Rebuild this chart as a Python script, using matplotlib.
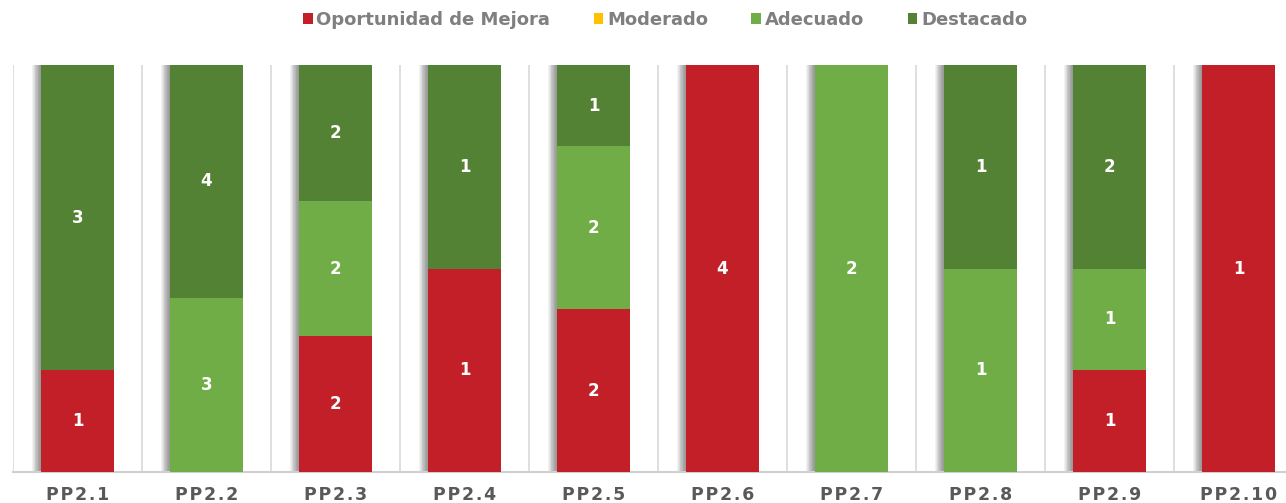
import numpy as np
import matplotlib
matplotlib.use("Agg")
import matplotlib.pyplot as plt

# ------------------------- data -------------------------
categories = ["PP2.1", "PP2.2", "PP2.3", "PP2.4", "PP2.5",
              "PP2.6", "PP2.7", "PP2.8", "PP2.9", "PP2.10"]
series_names = ["Oportunidad de Mejora", "Moderado", "Adecuado", "Destacado"]
oportunidad = [1, 0, 2, 1, 2, 4, 0, 0, 1, 1]
moderado = [0, 0, 0, 0, 0, 0, 0, 0, 0, 0]
adecuado = [0, 3, 2, 0, 2, 0, 2, 1, 1, 0]
destacado = [3, 4, 2, 1, 1, 0, 0, 1, 2, 0]
colors = ["#C21F28", "#FFC000", "#70AD47", "#548235"]

counts = np.array([oportunidad, moderado, adecuado, destacado], dtype=float)
totals = counts.sum(axis=0)
shares = counts / totals

# ------------------------- figure -------------------------
fig = plt.figure(figsize=(12.86, 5.03), dpi=100)
ax = fig.add_axes([13 / 1286, 1 - 472 / 503, 1 - 13 / 1286, (472 - 65) / 503])

x = np.arange(len(categories))
width = 0.56

# soft shadow on the left side of each bar
for k in range(12):
    off = 0.07 * (1 - k / 12)
    ax.bar(x - off, np.ones(len(x)), width=width, color="#505050",
           alpha=0.07, zorder=1, linewidth=0)

bottom = np.zeros(len(x))
for name, share, cnt, col in zip(series_names, shares, counts, colors):
    ax.bar(x, share, width=width, bottom=bottom, color=col, label=name,
           zorder=3, linewidth=0)
    for xi, b, s, c in zip(x, bottom, share, cnt):
        if c > 0:
            ax.text(xi, b + s / 2, f"{int(c)}", ha="center", va="center",
                    color="white", fontsize=12, fontweight="bold",
                    family="DejaVu Sans", zorder=4)
    bottom += share

# vertical separators between categories
for b in np.arange(-0.5, len(x) + 0.5, 1.0):
    ax.axvline(b, color="#D9D9D9", linewidth=1.2, zorder=0)

ax.set_xlim(-0.5, -0.5 + (1286 - 13) / 129)
ax.set_ylim(0, 1)
for s in ["top", "right", "left"]:
    ax.spines[s].set_visible(False)
ax.spines["bottom"].set_color("#D0D0D0")
ax.spines["bottom"].set_linewidth(1.5)
ax.set_yticks([])
ax.set_xticks(x)
ax.set_xticklabels(["\u200a".join(c) for c in categories], fontsize=12.5,
                   fontweight="bold", color="#595959", family="DejaVu Sans")
ax.tick_params(axis="x", length=0, pad=10)

handles, labels = ax.get_legend_handles_labels()
fig.legend(handles, labels, loc="center", bbox_to_anchor=(665 / 1286, 1 - 20 / 503),
           ncol=4, frameon=False, handlelength=0.55, handleheight=0.55,
           handletextpad=0.2, columnspacing=2.4,
           prop={"family": "DejaVu Sans", "weight": "bold", "size": 13},
           labelcolor="#7F7F7F")

fig.savefig("out.png", dpi=100)
